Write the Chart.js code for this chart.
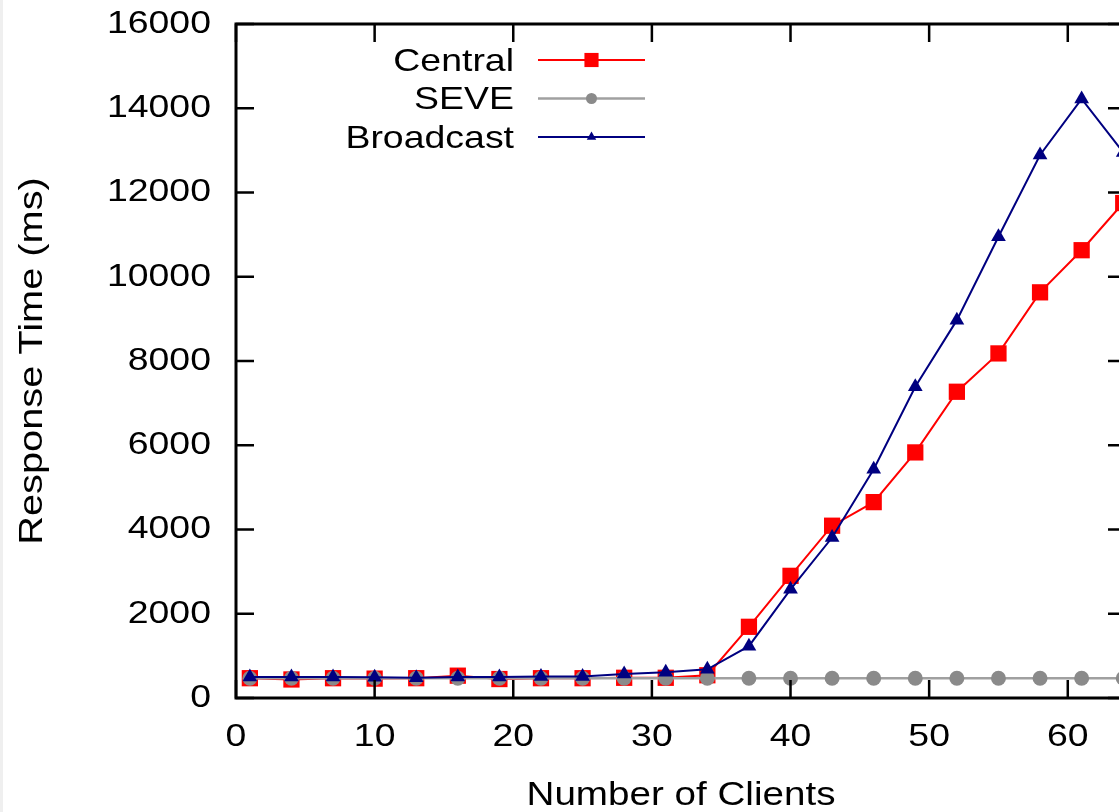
<!DOCTYPE html>
<html>
<head>
<meta charset="utf-8">
<title>Response Time vs Number of Clients</title>
<script src="https://cdn.jsdelivr.net/npm/chart.js@4.4.1/dist/chart.umd.min.js"></script>
<style>
  html, body { margin: 0; padding: 0; background: #fff; overflow: hidden; }
  body { width: 1119px; height: 812px; position: relative; }
  #grafico { position: absolute; left: 0; top: 0; }
  .borde-izq { position: absolute; left: 0; top: 0; width: 3px; height: 812px; background: #efefef; }
</style>
</head>
<body>
<canvas id="grafico" width="1140" height="812"></canvas>
<div class="borde-izq"></div>
<script>
// Datos
const clientes  = [1, 4, 7, 10, 13, 16, 19, 22, 25, 28, 31, 34, 37, 40, 43, 46, 49, 52, 55, 58, 61, 64];
const central   = [470, 440, 470, 460, 470, 530, 450, 470, 470, 480, 480, 540, 1690, 2900, 4090, 4650, 5830, 7270, 8180, 9630, 10630, 11750];
const seve      = [470, 470, 470, 470, 470, 470, 470, 470, 470, 470, 470, 470, 470, 470, 470, 470, 470, 470, 470, 470, 470, 470];
const broadcast = [500, 500, 500, 490, 480, 500, 500, 510, 510, 570, 610, 680, 1230, 2580, 3810, 5430, 7390, 8970, 10950, 12890, 14220, 12950];

const etiquetasSeries = ['Central', 'SEVE', 'Broadcast'];
const ticksX = [0, 10, 20, 30, 40, 50, 60];
const ticksY = [0, 2000, 4000, 6000, 8000, 10000, 12000, 14000, 16000];

const FUENTE = '"Liberation Sans", Arial, Helvetica, sans-serif';
const ESTIRAMIENTO = 1.17; // la fuente del original es mas ancha que Arial

function aPuntos(valores) {
    return clientes.map((c, i) => ({ x: c, y: valores[i] }));
}

// texto ensanchado horizontalmente alrededor de su punto de anclaje
function estirarTexto(ctx) {
    if (ctx._estirado) return;
    const original = ctx.fillText.bind(ctx);
    ctx.fillText = function(texto, x, y, maxAncho) {
        ctx.save();
        ctx.translate(x, y);
        ctx.scale(ESTIRAMIENTO, 1);
        if (maxAncho === undefined) {
            original(texto, 0, 0);
        } else {
            original(texto, 0, 0, maxAncho / ESTIRAMIENTO);
        }
        ctx.restore();
    };
    ctx._estirado = true;
}

const pluginTexto = {
    id: 'textoAncho',
    beforeDraw(chart) {
        estirarTexto(chart.ctx);
    }
};

// marco con marcas hacia dentro, estilo gnuplot
const pluginMarco = {
    id: 'marco',
    afterDatasetsDraw(chart) {
        const ctx = chart.ctx;
        const a = chart.chartArea;
        const largo = 18;
        ctx.save();
        ctx.strokeStyle = '#000';
        ctx.lineWidth = 2.5;
        ctx.beginPath();
        chart.scales.x.ticks.forEach(t => {
            const px = chart.scales.x.getPixelForValue(t.value);
            ctx.moveTo(px, a.bottom); ctx.lineTo(px, a.bottom - largo);
            ctx.moveTo(px, a.top); ctx.lineTo(px, a.top + largo);
        });
        chart.scales.y.ticks.forEach(t => {
            const py = chart.scales.y.getPixelForValue(t.value);
            ctx.moveTo(a.left, py); ctx.lineTo(a.left + largo, py);
            ctx.moveTo(a.right, py); ctx.lineTo(a.right - largo, py);
        });
        ctx.stroke();
        ctx.lineWidth = 3;
        ctx.strokeRect(a.left, a.top, a.right - a.left, a.bottom - a.top);
        ctx.restore();
    }
};

// leyenda dentro del area: texto alineado a la derecha y muestra despues
const pluginLeyenda = {
    id: 'leyendaInterna',
    afterDraw(chart, args, opts) {
        const ctx = chart.ctx;
        chart.data.datasets.forEach((ds, i) => {
            const y = opts.y0 + i * opts.paso;
            ctx.save();
            ctx.font = opts.tamano + 'px ' + FUENTE;
            ctx.fillStyle = '#000';
            ctx.textAlign = 'right';
            ctx.textBaseline = 'middle';
            ctx.fillText(ds.label, opts.xTexto, y + 2);
            ctx.strokeStyle = ds.borderColor;
            ctx.lineWidth = ds.borderWidth;
            ctx.beginPath();
            ctx.moveTo(opts.xLinea0, y);
            ctx.lineTo(opts.xLinea1, y);
            ctx.stroke();
            ctx.fillStyle = ds.pointBackgroundColor;
            Chart.helpers.drawPoint(ctx, {
                pointStyle: ds.pointStyle,
                radius: ds.radioLeyenda,
                borderWidth: 0,
                rotation: 0
            }, (opts.xLinea0 + opts.xLinea1) / 2, y);
            ctx.restore();
        });
    }
};

function sinRelleno(s) {
    s.paddingTop = 0;
    s.paddingBottom = 0;
    s.paddingLeft = 0;
    s.paddingRight = 0;
}

function crearGrafico() {
    const ctx = document.getElementById('grafico');
    new Chart(ctx, {
        type: 'line',
        data: {
            datasets: [{
                label: etiquetasSeries[0],
                data: aPuntos(central),
                borderColor: '#ff0000',
                backgroundColor: '#ff0000',
                pointBackgroundColor: '#ff0000',
                borderWidth: 2,
                pointStyle: 'rect',
                pointRadius: 11.5,
                pointBorderWidth: 0,
                radioLeyenda: 10,
                order: 3
            }, {
                label: etiquetasSeries[1],
                data: aPuntos(seve),
                borderColor: '#a0a0a0',
                backgroundColor: '#8a8a8a',
                pointBackgroundColor: '#8a8a8a',
                borderWidth: 2.5,
                pointStyle: 'circle',
                pointRadius: 7.5,
                pointBorderWidth: 0,
                radioLeyenda: 5.5,
                order: 2
            }, {
                label: etiquetasSeries[2],
                data: aPuntos(broadcast),
                borderColor: '#000080',
                backgroundColor: '#000080',
                pointBackgroundColor: '#000080',
                borderWidth: 2,
                pointStyle: 'triangle',
                pointRadius: 8.5,
                pointBorderWidth: 0,
                radioLeyenda: 5.5,
                order: 1
            }]
        },
        options: {
            responsive: false,
            animation: false,
            devicePixelRatio: 1,
            elements: { line: { tension: 0, fill: false } },
            layout: { padding: { left: 0, top: 24, right: 14, bottom: 0 } },
            plugins: {
                legend: { display: false },
                tooltip: { enabled: false },
                leyendaInterna: {
                    xTexto: 514, xLinea0: 538, xLinea1: 645,
                    y0: 60, paso: 38.5, tamano: 32
                }
            },
            scales: {
                x: {
                    type: 'linear',
                    min: 0,
                    max: 64.2,
                    afterFit: s => { s.height = 114; sinRelleno(s); },
                    afterBuildTicks: s => { s.ticks = ticksX.map(v => ({ value: v })); },
                    grid: { display: false, drawTicks: false },
                    border: { display: false },
                    ticks: {
                        color: '#000',
                        padding: 23,
                        font: { family: FUENTE, size: 32, lineHeight: 1 },
                        callback: v => String(v)
                    },
                    title: {
                        display: true,
                        text: 'Number of Clients',
                        color: '#000',
                        padding: { top: 0, bottom: 0 },
                        font: { family: FUENTE, size: 33, lineHeight: 1 }
                    }
                },
                y: {
                    type: 'linear',
                    min: 0,
                    max: 16000,
                    afterFit: s => { s.width = 236; sinRelleno(s); },
                    afterBuildTicks: s => { s.ticks = ticksY.map(v => ({ value: v })); },
                    grid: { display: false, drawTicks: false },
                    border: { display: false },
                    ticks: {
                        color: '#000',
                        padding: 25,
                        font: { family: FUENTE, size: 32, lineHeight: 1 },
                        callback: v => String(v)
                    },
                    title: {
                        display: true,
                        text: 'Response Time (ms)',
                        color: '#000',
                        padding: { top: 16, bottom: 0 },
                        font: { family: FUENTE, size: 34, lineHeight: 1 }
                    }
                }
            }
        },
        plugins: [pluginTexto, pluginMarco, pluginLeyenda]
    });
}

if (document.readyState === 'loading') {
    document.addEventListener('DOMContentLoaded', crearGrafico);
} else {
    crearGrafico();
}
</script>
</body>
</html>
